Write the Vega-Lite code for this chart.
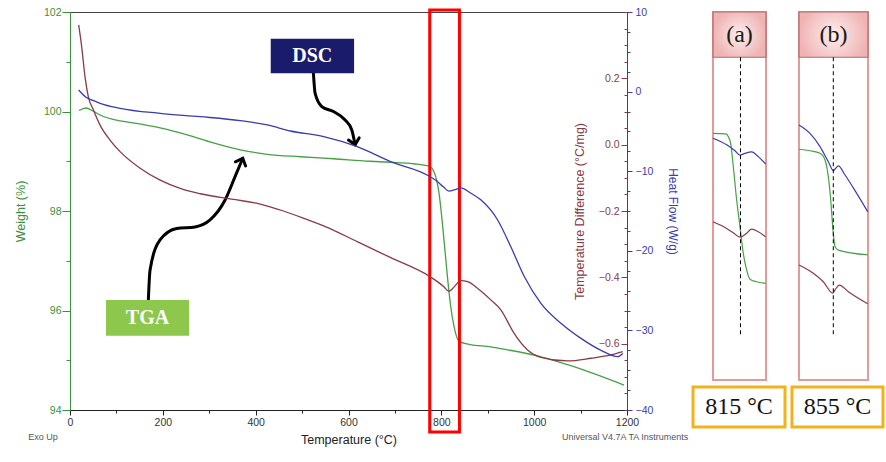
{
"$schema": "https://vega.github.io/schema/vega-lite/v6.json",
"padding": {"left": 13, "top": 6, "right": 0, "bottom": 0},
"background": "white",
"datasets": {
"tga": [
{"t":19.4,"w":100.02},{"t":34.5,"w":100.07},{"t":49.6,"w":100.01},{"t":64.8,"w":99.93},{"t":107.9,"w":99.81},{"t":136,"w":99.77},{"t":194.3,"w":99.67},{"t":252.5,"w":99.53},{"t":308.7,"w":99.37},{"t":366.9,"w":99.23},{"t":425.2,"w":99.14},{"t":496.4,"w":99.09},{"t":567.7,"w":99.05},{"t":645.4,"w":99.0},{"t":690.7,"w":98.98},{"t":740,"w":98.95},{"t":773.4,"w":98.9},{"t":784.2,"w":98.79},{"t":795,"w":98.36},{"t":805.7,"w":97.42},{"t":813.1,"w":96.68},{"t":820.2,"w":96.08},{"t":827.3,"w":95.68},{"t":838.1,"w":95.38},{"t":860,"w":95.32},{"t":906.5,"w":95.27},{"t":942.6,"w":95.21},{"t":1014.5,"w":95.07},{"t":1085.7,"w":94.87},{"t":1193.6,"w":94.5}
],
"dta": [
{"t":18.7,"td":0.361},{"t":25.2,"td":0.295},{"t":32.3,"td":0.205},{"t":39.4,"td":0.145},{"t":50.3,"td":0.105},{"t":64.7,"td":0.059},{"t":86.2,"td":0.014},{"t":107.9,"td":-0.021},{"t":151.1,"td":-0.071},{"t":194.3,"td":-0.107},{"t":237.4,"td":-0.132},{"t":280.6,"td":-0.148},{"t":352.5,"td":-0.165},{"t":410,"td":-0.179},{"t":460,"td":-0.2},{"t":500,"td":-0.22},{"t":550,"td":-0.247},{"t":620,"td":-0.293},{"t":690,"td":-0.34},{"t":773.4,"td":-0.396},{"t":791.5,"td":-0.413},{"t":805,"td":-0.428},{"t":816.5,"td":-0.442},{"t":828,"td":-0.428},{"t":841.8,"td":-0.41},{"t":858,"td":-0.414},{"t":877.8,"td":-0.433},{"t":906.5,"td":-0.468},{"t":928.1,"td":-0.498},{"t":956.8,"td":-0.569},{"t":985.8,"td":-0.619},{"t":1014.5,"td":-0.641},{"t":1072.1,"td":-0.652},{"t":1122.4,"td":-0.644},{"t":1165.6,"td":-0.634},{"t":1190.8,"td":-0.624}
],
"dsc": [
{"t":18.7,"hf":0.2},{"t":34.5,"hf":-0.71},{"t":49.6,"hf":-1.1},{"t":64.8,"hf":-1.47},{"t":107.9,"hf":-2.1},{"t":194.3,"hf":-2.73},{"t":280.6,"hf":-3.15},{"t":366.9,"hf":-3.65},{"t":425.2,"hf":-4.19},{"t":474.9,"hf":-4.95},{"t":546.7,"hf":-5.66},{"t":618.8,"hf":-6.92},{"t":690.7,"hf":-8.8},{"t":773.4,"hf":-10.6},{"t":791.5,"hf":-11.3},{"t":805,"hf":-12.0},{"t":816.5,"hf":-12.5},{"t":830,"hf":-12.3},{"t":841.8,"hf":-12.1},{"t":862,"hf":-12.7},{"t":885,"hf":-13.6},{"t":921,"hf":-16.1},{"t":949.7,"hf":-19.5},{"t":978.4,"hf":-23.2},{"t":1014.5,"hf":-26.6},{"t":1057.6,"hf":-29.1},{"t":1100.8,"hf":-31.0},{"t":1144,"hf":-32.5},{"t":1180,"hf":-33.3},{"t":1190.8,"hf":-32.9}
],
"redbox": [{"t":775,"t2":839,"w":102.04,"w2":93.56}],
"boxes": [
{"label":"DSC","t":432.5,"t2":612,"w":101.46,"w2":100.77,"tc":522,"wc":101.11},
{"label":"TGA","t":77.6,"t2":256.5,"w":96.21,"w2":95.49,"tc":167,"wc":95.85}
],
"arrows": [
{"id":"TGA","i":0,"t":168.8,"w":96.21},{"id":"TGA","i":1,"t":172.4,"w":96.81},{"id":"TGA","i":2,"t":194,"w":97.42},{"id":"TGA","i":3,"t":230,"w":97.65},{"id":"TGA","i":4,"t":269.4,"w":97.68},{"id":"TGA","i":5,"t":301.7,"w":97.82},{"id":"TGA","i":6,"t":334.1,"w":98.22},{"id":"TGA","i":7,"t":355.6,"w":98.69},{"id":"TGA","i":8,"t":372.2,"w":99.06},
{"id":"DSC","i":0,"t":524.4,"w":100.77},{"id":"DSC","i":1,"t":528,"w":100.37},{"id":"DSC","i":2,"t":542.5,"w":100.1},{"id":"DSC","i":3,"t":567.5,"w":100.0},{"id":"DSC","i":4,"t":592.7,"w":99.83},{"id":"DSC","i":5,"t":607.1,"w":99.63},{"id":"DSC","i":6,"t":614.2,"w":99.33}
],
"heads": [{"id":"TGA","t":372.2,"w":99.06},{"id":"DSC","t":614.2,"w":99.33}],
"notes": [{"label":"Exo Up","t":-58,"w":93.45},{"label":"Universal V4.7A TA Instruments","t":1196,"w":93.45}],
"insetA": [
{"series":"TGA","t":745,"s":67.0},{"series":"TGA","t":775.5,"s":66.9},{"series":"TGA","t":779.9,"s":66.8},{"series":"TGA","t":784.4,"s":66.0},{"series":"TGA","t":790,"s":64.3},{"series":"TGA","t":796.7,"s":58.0},{"series":"TGA","t":805.3,"s":48.9},{"series":"TGA","t":813.7,"s":41.7},{"series":"TGA","t":822.1,"s":34.4},{"series":"TGA","t":830.8,"s":29.9},{"series":"TGA","t":839.1,"s":27.4},{"series":"TGA","t":856.2,"s":26.7},{"series":"TGA","t":879,"s":26.3},
{"series":"DSC","t":745,"s":65.7},{"series":"DSC","t":779.9,"s":63.9},{"series":"DSC","t":801,"s":62.3},{"series":"DSC","t":813.7,"s":61.1},{"series":"DSC","t":826.4,"s":61.6},{"series":"DSC","t":843.5,"s":62.0},{"series":"DSC","t":860.3,"s":60.7},{"series":"DSC","t":879,"s":58.7},
{"series":"DTA","t":745,"s":43.0},{"series":"DTA","t":771.2,"s":41.7},{"series":"DTA","t":796.7,"s":40.0},{"series":"DTA","t":813.7,"s":38.8},{"series":"DTA","t":830.8,"s":39.9},{"series":"DTA","t":843.5,"s":41.0},{"series":"DTA","t":860.3,"s":40.3},{"series":"DTA","t":879,"s":38.9}
],
"insetB": [
{"series":"DSC","t":768,"s":69.3},{"series":"DSC","t":795.9,"s":67.0},{"series":"DSC","t":821.3,"s":63.4},{"series":"DSC","t":842.4,"s":59.3},{"series":"DSC","t":855.1,"s":56.9},{"series":"DSC","t":867.7,"s":58.2},{"series":"DSC","t":884.8,"s":55.7},{"series":"DSC","t":914.4,"s":50.7},{"series":"DSC","t":942.4,"s":45.7},
{"series":"TGA","t":768,"s":62.7},{"series":"TGA","t":795.9,"s":62.3},{"series":"TGA","t":821.3,"s":61.6},{"series":"TGA","t":834,"s":59.8},{"series":"TGA","t":842.4,"s":55.2},{"series":"TGA","t":848.5,"s":48.9},{"series":"TGA","t":853.5,"s":41.7},{"series":"TGA","t":859.4,"s":36.2},{"series":"TGA","t":867.7,"s":35.3},{"series":"TGA","t":942.4,"s":34.0},
{"series":"DTA","t":768,"s":31.25},{"series":"DTA","t":804.3,"s":29.0},{"series":"DTA","t":829.7,"s":26.7},{"series":"DTA","t":853.5,"s":23.6},{"series":"DTA","t":859.4,"s":24.5},{"series":"DTA","t":870.3,"s":25.8},{"series":"DTA","t":893.1,"s":24.0},{"series":"DTA","t":942.4,"s":20.7}
],
"headers": [
{"panel":"a","label":"(a)","t":745,"t2":880,"s":100,"s2":87.7,"tc":812.5,"sc":93.8},
{"panel":"b","label":"(b)","t":768,"t2":943,"s":100,"s2":87.7,"tc":855.5,"sc":93.8}
],
"marks": [
{"panel":"a","t":815,"s":87.7,"s2":11.7},
{"panel":"b","t":855,"s":87.7,"s2":11.7}
],
"temps": [
{"panel":"a","label":"815 °C","t":694.1,"t2":928.4,"s":-1.9,"s2":-12.8,"tc":811.2,"sc":-7.35},
{"panel":"b","label":"855 °C","t":750.2,"t2":981.0,"s":-1.9,"s2":-12.8,"tc":865.6,"sc":-7.35}
]
},
"hconcat": [
{
"width": 557,
"height": 398,
"view": {"stroke": "#444444", "strokeWidth": 1},
"layer": [
{
"layer": [
{"data": {"name": "tga"}, "mark": {"type": "line", "color": "#46a046", "strokeWidth": 1.3, "interpolate": "monotone"},
"encoding": {
"x": {"field": "t", "type": "quantitative", "title": "Temperature (°C)", "scale": {"domain": [0, 1200], "nice": false, "zero": false},
"axis": {"values": [0,50,100,150,200,250,300,350,400,450,500,550,600,650,700,750,800,850,900,950,1000,1050,1100,1150,1200], "format": "d", "labelExpr": "datum.value % 200 === 0 ? datum.label : ''", "tickSize": {"condition": {"test": "datum.value % 200 === 0", "value": 5}, "value": 3}, "domainColor": "#222222", "tickColor": "#222222", "labelColor": "#333333", "titleColor": "#222222", "labelFontSize": 10.5, "titleFontSize": 12.5, "labelPadding": 2, "titlePadding": 6, "labelFlush": false, "labelOverlap": false}},
"y": {"field": "w", "type": "quantitative", "title": "Weight (%)", "scale": {"domain": [94, 102], "nice": false, "zero": false},
"axis": {"orient": "left", "values": [94,94.5,95,95.5,96,96.5,97,97.5,98,98.5,99,99.5,100,100.5,101,101.5,102], "format": "d", "labelExpr": "datum.value % 2 === 0 ? datum.label : ''", "tickSize": {"condition": {"test": "datum.value % 2 === 0", "value": 8}, "value": 4}, "domainColor": "#3d8f3d", "tickColor": "#3d8f3d", "labelColor": "#3d8f3d", "titleColor": "#3d8f3d", "labelPadding": 1, "titlePadding": 16, "labelOverlap": false, "labelFontSize": 10.5, "titleFontSize": 12.5}}
}},
{"data": {"name": "redbox"}, "mark": {"type": "rect", "filled": false, "color": "#ff0000", "strokeWidth": 3},
"encoding": {"x": {"field": "t", "type": "quantitative", "title": "Temperature (°C)"}, "x2": {"field": "t2"}, "y": {"field": "w", "type": "quantitative", "title": "Weight (%)"}, "y2": {"field": "w2"}}},
{"data": {"name": "arrows"}, "mark": {"type": "line", "color": "#000000", "strokeWidth": 3, "interpolate": "monotone", "strokeCap": "round"},
"encoding": {"x": {"field": "t", "type": "quantitative", "title": "Temperature (°C)"}, "y": {"field": "w", "type": "quantitative", "title": "Weight (%)"}, "detail": {"field": "id"}, "order": {"field": "i", "type": "quantitative"}}},
{"data": {"name": "heads"}, "transform": [{"filter": "datum.id === 'TGA'"}], "mark": {"type": "point", "shape": "M-1,1.1L0,0L1,1.1", "filled": false, "color": "#000000", "strokeWidth": 3, "size": 120, "angle": 22, "opacity": 1, "strokeCap": "round"},
"encoding": {"x": {"field": "t", "type": "quantitative", "title": "Temperature (°C)"}, "y": {"field": "w", "type": "quantitative", "title": "Weight (%)"}}},
{"data": {"name": "heads"}, "transform": [{"filter": "datum.id === 'DSC'"}], "mark": {"type": "point", "shape": "M-1,1.1L0,0L1,1.1", "filled": false, "color": "#000000", "strokeWidth": 3, "size": 120, "angle": 168, "opacity": 1, "strokeCap": "round"},
"encoding": {"x": {"field": "t", "type": "quantitative", "title": "Temperature (°C)"}, "y": {"field": "w", "type": "quantitative", "title": "Weight (%)"}}},
{"data": {"name": "boxes"}, "mark": {"type": "rect"},
"encoding": {"x": {"field": "t", "type": "quantitative", "title": "Temperature (°C)"}, "x2": {"field": "t2"}, "y": {"field": "w", "type": "quantitative", "title": "Weight (%)"}, "y2": {"field": "w2"}, "color": {"condition": {"test": "datum.label === 'DSC'", "value": "#1b1b6b"}, "value": "#8dc84d"}}},
{"data": {"name": "boxes"}, "mark": {"type": "text", "font": "Liberation Serif", "fontWeight": "bold", "fontSize": 20, "color": "#ffffff", "align": "center", "baseline": "middle"},
"encoding": {"x": {"field": "tc", "type": "quantitative", "title": "Temperature (°C)"}, "y": {"field": "wc", "type": "quantitative", "title": "Weight (%)"}, "text": {"field": "label"}}},
{"data": {"name": "notes"}, "mark": {"type": "text", "font": "Liberation Sans", "fontSize": 9, "color": "#555555", "align": "center", "baseline": "middle"},
"encoding": {"x": {"field": "t", "type": "quantitative", "title": "Temperature (°C)"}, "y": {"field": "w", "type": "quantitative", "title": "Weight (%)"}, "text": {"field": "label"}}}
]
},
{"data": {"name": "dta"}, "mark": {"type": "line", "color": "#8a3a46", "strokeWidth": 1.3, "interpolate": "monotone"},
"encoding": {
"x": {"field": "t", "type": "quantitative", "title": "Temperature (°C)"},
"y": {"field": "td", "type": "quantitative", "title": "Temperature Difference (°C/mg)", "scale": {"domain": [-0.8, 0.4], "nice": false, "zero": false},
"axis": {"orient": "left", "offset": -557, "domain": false, "values": [-0.8,-0.75,-0.7,-0.65,-0.6,-0.55,-0.5,-0.45,-0.4,-0.35,-0.3,-0.25,-0.2,-0.15,-0.1,-0.05,0,0.05,0.1,0.15,0.2,0.25,0.3,0.35,0.4], "format": ".1f", "labelExpr": "indexof([-0.6,-0.4,-0.2,0,0.2], datum.value) >= 0 ? datum.label : ''", "tickSize": {"condition": {"test": "indexof([-0.6,-0.4,-0.2,0,0.2], datum.value) >= 0", "value": 6}, "value": 3}, "tickColor": "#8a3a46", "labelColor": "#8a3a46", "titleColor": "#8a3a46", "labelPadding": 2, "titlePadding": 12, "labelOverlap": false, "labelFontSize": 10.5, "titleFontSize": 12.5}}
}},
{"data": {"name": "dsc"}, "mark": {"type": "line", "color": "#3b3bb0", "strokeWidth": 1.3, "interpolate": "monotone"},
"encoding": {
"x": {"field": "t", "type": "quantitative", "title": "Temperature (°C)"},
"y": {"field": "hf", "type": "quantitative", "title": "Heat Flow (W/g)", "scale": {"domain": [-40, 10], "nice": false, "zero": false},
"axis": {"orient": "right", "values": [-40,-37.5,-35,-32.5,-30,-27.5,-25,-22.5,-20,-17.5,-15,-12.5,-10,-7.5,-5,-2.5,0,2.5,5,7.5,10], "format": "d", "labelExpr": "datum.value % 10 === 0 ? datum.label : ''", "tickSize": {"condition": {"test": "datum.value % 10 === 0", "value": 5}, "value": 3}, "domainColor": "#3b3bb0", "tickColor": "#3b3bb0", "labelColor": "#3b3bb0", "titleColor": "#3b3bb0", "labelPadding": 3, "titlePadding": 13, "labelOverlap": false, "labelFontSize": 10.5, "titleFontSize": 12}}
}}
],
"resolve": {"scale": {"y": "independent"}, "axis": {"y": "independent"}}
},
{
"hconcat": [
{
"width": 53,
"height": 368,
"view": {"stroke": "#e39a9a", "strokeWidth": 2},
"layer": [
{"data": {"name": "insetA"}, "mark": {"type": "line", "strokeWidth": 1.2, "interpolate": "monotone"},
"encoding": {
"x": {"field": "t", "type": "quantitative", "scale": {"domain": [745, 880], "nice": false, "zero": false}, "axis": {"orient": "bottom", "offset": -43, "title": null, "values": [750, 800, 850], "format": "d", "labelExpr": "datum.value === 800 ? datum.label : ''", "domainColor": "#999999", "tickColor": "#999999", "tickSize": 3, "labelColor": "#666666", "labelFontSize": 9, "labelPadding": 2, "labelFlush": false, "labelOverlap": false}},
"y": {"field": "s", "type": "quantitative", "scale": {"domain": [0, 100], "nice": false, "zero": false}, "axis": null},
"color": {"field": "series", "type": "nominal", "scale": {"domain": ["TGA", "DTA", "DSC"], "range": ["#46a046", "#8a3a46", "#3b3bb0"]}, "legend": null}
}},
{"data": {"name": "headers"}, "transform": [{"filter": "datum.panel === 'a'"}], "mark": {"type": "rect", "stroke": "#b36a6a", "strokeWidth": 1.2, "fill": {"gradient": "radial", "stops": [{"offset": 0, "color": "#fdeeee"}, {"offset": 1, "color": "#efb3b3"}]}},
"encoding": {"x": {"field": "t", "type": "quantitative", "axis": null}, "x2": {"field": "t2"}, "y": {"field": "s", "type": "quantitative", "axis": null}, "y2": {"field": "s2"}}},
{"data": {"name": "headers"}, "transform": [{"filter": "datum.panel === 'a'"}], "mark": {"type": "text", "font": "Liberation Serif", "fontSize": 24, "color": "#1a1a1a", "align": "center", "baseline": "middle"},
"encoding": {"x": {"field": "tc", "type": "quantitative", "axis": null}, "y": {"field": "sc", "type": "quantitative", "axis": null}, "text": {"field": "label"}}},
{"data": {"name": "marks"}, "transform": [{"filter": "datum.panel === 'a'"}], "mark": {"type": "rule", "color": "#000000", "strokeWidth": 1, "strokeDash": [4, 3]},
"encoding": {"x": {"field": "t", "type": "quantitative", "axis": null}, "y": {"field": "s", "type": "quantitative", "axis": null}, "y2": {"field": "s2"}}},
{"data": {"name": "temps"}, "transform": [{"filter": "datum.panel === 'a'"}], "mark": {"type": "rect", "fill": "#ffffff", "stroke": "#f2b21b", "strokeWidth": 3},
"encoding": {"x": {"field": "t", "type": "quantitative", "axis": null}, "x2": {"field": "t2"}, "y": {"field": "s", "type": "quantitative", "axis": null}, "y2": {"field": "s2"}}},
{"data": {"name": "temps"}, "transform": [{"filter": "datum.panel === 'a'"}], "mark": {"type": "text", "font": "Liberation Serif", "fontSize": 24, "color": "#111111", "align": "center", "baseline": "middle"},
"encoding": {"x": {"field": "tc", "type": "quantitative", "axis": null}, "y": {"field": "sc", "type": "quantitative", "axis": null}, "text": {"field": "label"}}}
]
},
{
"width": 69,
"height": 368,
"view": {"stroke": "#e39a9a", "strokeWidth": 2},
"layer": [
{"data": {"name": "insetB"}, "mark": {"type": "line", "strokeWidth": 1.2, "interpolate": "monotone"},
"encoding": {
"x": {"field": "t", "type": "quantitative", "scale": {"domain": [768, 943], "nice": false, "zero": false}, "axis": {"orient": "bottom", "offset": -43, "title": null, "values": [800, 850, 900], "format": "d", "labelExpr": "datum.value === 800 ? datum.label : ''", "domainColor": "#999999", "tickColor": "#999999", "tickSize": 3, "labelColor": "#666666", "labelFontSize": 9, "labelPadding": 2, "labelFlush": false, "labelOverlap": false}},
"y": {"field": "s", "type": "quantitative", "scale": {"domain": [0, 100], "nice": false, "zero": false}, "axis": null},
"color": {"field": "series", "type": "nominal", "scale": {"domain": ["TGA", "DTA", "DSC"], "range": ["#46a046", "#8a3a46", "#3b3bb0"]}, "legend": null}
}},
{"data": {"name": "headers"}, "transform": [{"filter": "datum.panel === 'b'"}], "mark": {"type": "rect", "stroke": "#b36a6a", "strokeWidth": 1.2, "fill": {"gradient": "radial", "stops": [{"offset": 0, "color": "#fdeeee"}, {"offset": 1, "color": "#efb3b3"}]}},
"encoding": {"x": {"field": "t", "type": "quantitative", "axis": null}, "x2": {"field": "t2"}, "y": {"field": "s", "type": "quantitative", "axis": null}, "y2": {"field": "s2"}}},
{"data": {"name": "headers"}, "transform": [{"filter": "datum.panel === 'b'"}], "mark": {"type": "text", "font": "Liberation Serif", "fontSize": 24, "color": "#1a1a1a", "align": "center", "baseline": "middle"},
"encoding": {"x": {"field": "tc", "type": "quantitative", "axis": null}, "y": {"field": "sc", "type": "quantitative", "axis": null}, "text": {"field": "label"}}},
{"data": {"name": "marks"}, "transform": [{"filter": "datum.panel === 'b'"}], "mark": {"type": "rule", "color": "#000000", "strokeWidth": 1, "strokeDash": [4, 3]},
"encoding": {"x": {"field": "t", "type": "quantitative", "axis": null}, "y": {"field": "s", "type": "quantitative", "axis": null}, "y2": {"field": "s2"}}},
{"data": {"name": "temps"}, "transform": [{"filter": "datum.panel === 'b'"}], "mark": {"type": "rect", "fill": "#ffffff", "stroke": "#f2b21b", "strokeWidth": 3},
"encoding": {"x": {"field": "t", "type": "quantitative", "axis": null}, "x2": {"field": "t2"}, "y": {"field": "s", "type": "quantitative", "axis": null}, "y2": {"field": "s2"}}},
{"data": {"name": "temps"}, "transform": [{"filter": "datum.panel === 'b'"}], "mark": {"type": "text", "font": "Liberation Serif", "fontSize": 24, "color": "#111111", "align": "center", "baseline": "middle"},
"encoding": {"x": {"field": "tc", "type": "quantitative", "axis": null}, "y": {"field": "sc", "type": "quantitative", "axis": null}, "text": {"field": "label"}}}
]
}
],
"spacing": 33,
"bounds": "flush"
}
],
"spacing": 86,
"bounds": "flush",
"config": {
"font": "Liberation Sans",
"axis": {"grid": false, "labelFont": "Liberation Sans", "titleFont": "Liberation Sans", "titleFontWeight": "normal"}
}
}
